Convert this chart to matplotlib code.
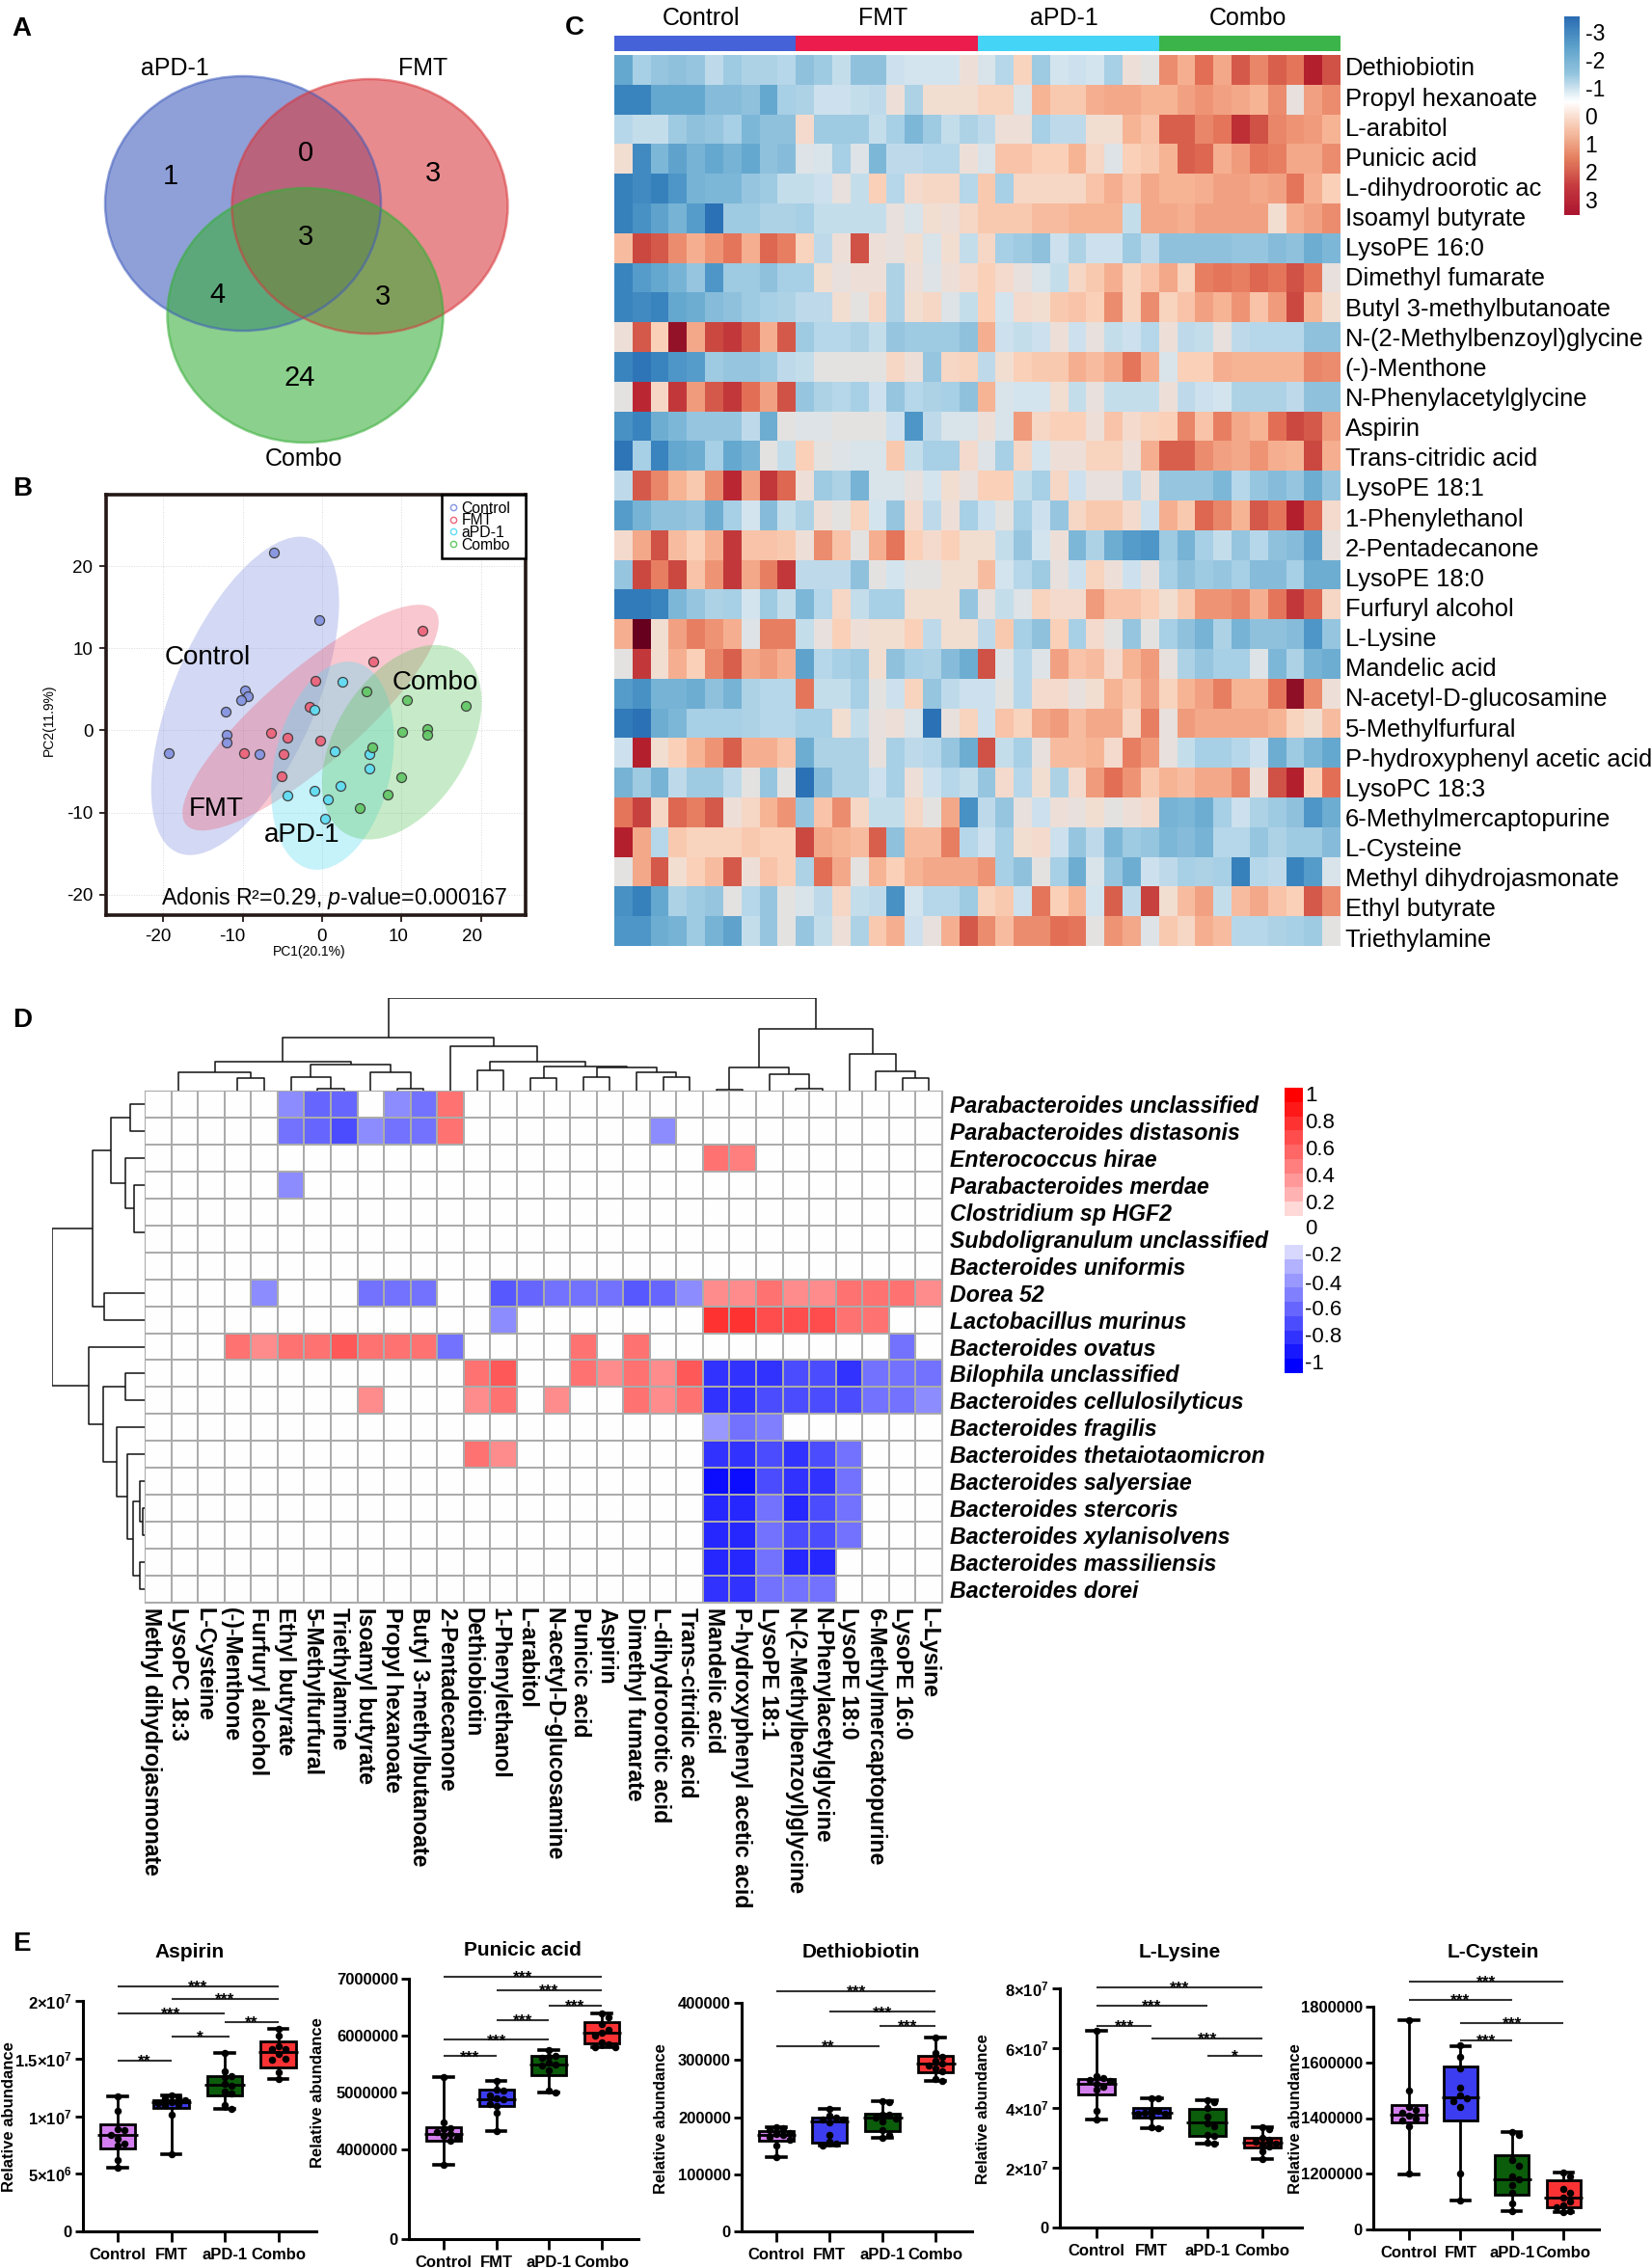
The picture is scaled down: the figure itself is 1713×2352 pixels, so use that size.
import numpy as np
import matplotlib
matplotlib.use("Agg")
import matplotlib.pyplot as plt
from matplotlib.colors import LinearSegmentedColormap, ListedColormap, Normalize
from matplotlib.lines import Line2D
from matplotlib.patches import Ellipse
from matplotlib.transforms import ScaledTranslation

plt.rcParams['font.family'] = ['Liberation Sans', 'DejaVu Sans']
plt.rcParams['mathtext.fontset'] = 'custom'
plt.rcParams['mathtext.rm'] = 'Liberation Sans'
plt.rcParams['mathtext.it'] = 'Liberation Sans:italic'
plt.rcParams['mathtext.bf'] = 'Liberation Sans:bold'

W, H = 1713, 2352
fig = plt.figure(figsize=(W / 100, H / 100), dpi=100, facecolor='white')


def add_px(l, t, r, b, **kw):
    return fig.add_axes([l / W, 1 - b / H, (r - l) / W, (b - t) / H], **kw)


def ftext(x, y, s, **kw):
    kw.setdefault('ha', 'center')
    kw.setdefault('va', 'center')
    return fig.text(x / W, 1 - y / H, s, **kw)


# ---------------------------------------------------------------- data
groups = ['Control', 'FMT', 'aPD-1', 'Combo']

venn_labels = ['aPD-1', 'FMT', 'Combo']
venn_counts = [1, 0, 3, 3, 4, 3, 24]

pca_control_x = [-6.1, -0.4, -9.7, -9.4, -10.2, -12.2, -12.0, -12.0, -19.3, -7.9]
pca_control_y = [21.6, 13.4, 4.9, 4.1, 3.7, 2.3, -0.5, -1.5, -2.8, -2.9]
pca_fmt_x = [12.7, 6.5, -0.9, -1.6, -6.4, -4.4, -0.2, -9.9, -4.9, -5.1]
pca_fmt_y = [12.1, 8.4, 6.0, 2.9, -0.35, -0.9, -1.3, -2.8, -2.9, -5.6]
pca_apd_x = [2.6, -1.0, 1.6, 6.0, 6.0, 2.3, -1.0, -4.4, 0.7, 0.4]
pca_apd_y = [5.9, 2.5, -2.5, -2.9, -4.6, -6.8, -7.3, -7.9, -8.4, -10.7]
pca_combo_x = [5.6, 10.7, 18.1, 10.1, 13.2, 13.3, 6.3, 10.0, 8.3, 4.8]
pca_combo_y = [4.7, 3.7, 3.0, -0.2, 0.2, -0.55, -2.1, -5.7, -7.8, -9.5]

metabolites = ['Dethiobiotin', 'Propyl hexanoate', 'L-arabitol', 'Punicic acid', 'L-dihydroorotic ac',
               'Isoamyl butyrate', 'LysoPE 16:0', 'Dimethyl fumarate', 'Butyl 3-methylbutanoate',
               'N-(2-Methylbenzoyl)glycine', '(-)-Menthone', 'N-Phenylacetylglycine', 'Aspirin',
               'Trans-citridic acid', 'LysoPE 18:1', '1-Phenylethanol', '2-Pentadecanone', 'LysoPE 18:0',
               'Furfuryl alcohol', 'L-Lysine', 'Mandelic acid', 'N-acetyl-D-glucosamine', '5-Methylfurfural',
               'P-hydroxyphenyl acetic acid', 'LysoPC 18:3', '6-Methylmercaptopurine', 'L-Cysteine',
               'Methyl dihydrojasmonate', 'Ethyl butyrate', 'Triethylamine']

heat_values = [
    [-1.8,-1.0,-1.2,-1.3,-1.2,-0.7,-1.1,-0.9,-0.9,-0.8, -1.3,-1.1,-0.6,-1.3,-1.3,-0.5,-0.4,-0.4,-0.4,0.1, -0.3,-0.8,0.5,-1.1,-0.4,-0.5,-0.4,-1.0,0.1,-0.1, 1.6,1.1,2.0,1.2,2.3,1.7,2.2,1.9,3.0,2.4],
    [-2.4,-2.4,-1.8,-1.8,-1.8,-1.4,-1.4,-1.3,-1.8,-1.0, -0.9,-0.5,-0.5,-0.6,-0.7,0.1,-0.9,0.2,0.2,0.2, 0.5,0.5,-0.3,1.0,0.7,0.7,1.1,1.2,1.2,1.0, 1.0,1.3,1.5,1.3,1.2,1.0,1.6,0.0,1.3,1.6],
    [-0.8,-0.6,-0.6,-1.1,-1.3,-1.2,-1.0,-1.5,-1.3,-1.3, 0.3,-1.1,-1.1,-1.1,-0.6,-1.0,-1.5,-1.1,-0.6,-0.9, -0.7,0.1,0.1,-1.0,-0.7,-0.7,0.2,0.2,1.0,0.8, 2.2,2.2,1.7,1.9,2.8,2.4,1.7,1.5,1.4,1.0],
    [0.2,-2.3,-1.5,-1.9,-1.6,-1.8,-1.6,-1.8,-1.3,-1.4, -0.2,-0.3,-1.0,-0.2,-1.5,-0.7,-0.7,-0.8,-0.8,0.1, -0.3,0.8,0.8,0.6,0.6,1.0,0.4,-0.2,0.6,0.7, 1.0,2.2,2.1,1.1,1.4,1.9,1.8,1.2,1.2,1.6],
    [-2.5,-2.3,-2.5,-2.1,-1.6,-1.5,-1.5,-1.2,-1.1,-0.6, -0.6,-0.5,0.0,-0.6,0.6,-0.8,0.3,0.4,0.4,-0.8, 0.7,-1.0,0.4,0.4,0.4,0.4,0.8,1.1,0.8,1.2, 1.0,1.0,1.1,1.3,1.3,1.2,1.3,1.9,1.1,0.6],
    [-2.5,-2.2,-1.9,-1.6,-2.0,-2.8,-1.1,-1.1,-0.9,-0.9, -1.0,-0.6,-0.6,-0.6,-0.6,0.0,-0.3,0.2,0.1,0.4, 0.7,0.7,0.7,0.9,0.9,1.0,1.0,1.0,-0.6,1.2, 1.2,1.1,1.3,1.3,1.3,1.3,0.2,1.1,1.3,1.6],
    [0.9,2.5,2.3,1.6,1.1,1.5,1.9,1.1,2.1,1.8, 0.5,-0.7,0.1,2.4,0.1,0.0,0.2,-0.3,0.2,-0.6, 0.4,-1.0,-1.1,-1.3,-0.5,-0.9,-0.5,-0.5,-1.1,-0.7, -1.3,-1.3,-1.3,-1.3,-1.2,-1.2,-1.4,-1.3,-1.7,-1.5],
    [-2.4,-2.0,-1.8,-1.6,-1.2,-2.1,-1.1,-1.1,-1.3,-1.0, -1.0,0.2,0.0,0.1,0.1,-0.9,0.1,-0.2,0.1,0.3, 0.6,0.3,0.0,-0.3,-0.6,0.4,0.7,1.1,0.5,0.8, 1.2,0.5,1.8,1.9,1.8,2.1,1.9,2.4,1.9,0.0],
    [-2.4,-2.3,-2.4,-1.8,-1.7,-1.4,-1.3,-1.1,-1.0,-0.9, -0.7,-0.7,0.2,-0.1,0.4,-0.9,0.2,0.4,-0.2,-0.6, 0.6,-0.4,0.3,0.2,0.7,0.8,0.6,1.6,0.5,1.6, 0.5,0.8,1.3,1.0,1.5,0.8,1.4,2.5,1.0,0.2],
    [0.1,2.3,0.6,3.4,1.2,2.5,2.7,2.2,1.1,2.3, -1.1,-0.8,-0.8,-0.9,-0.6,-1.2,-1.1,-1.1,-1.1,-1.3, 1.1,-0.5,-0.6,-0.5,0.1,-0.5,0.0,-0.6,-0.5,-0.8, 0.1,-0.7,-0.6,0.0,-0.7,-0.8,-0.8,-0.8,-1.3,-1.3],
    [-2.4,-2.7,-2.4,-2.1,-2.0,-1.1,-1.2,-1.2,-1.1,-0.7, -0.6,-0.1,-0.1,-0.1,-0.1,0.4,0.1,-1.2,0.4,0.5, -0.7,0.2,0.6,0.7,0.7,1.1,0.9,1.2,1.9,1.1, -0.3,0.6,0.6,1.1,1.0,1.0,1.0,1.0,1.7,1.6],
    [-0.1,2.9,0.4,2.7,1.4,2.3,2.7,2.0,1.3,2.4, -1.2,-0.9,-0.8,-1.0,-0.5,-1.2,-0.8,-0.9,-1.0,-1.3, 1.0,-0.3,-0.4,-0.4,0.2,-0.6,0.0,-0.6,-0.6,-0.6, 0.1,-0.7,-0.5,-0.4,-0.9,-0.9,-0.9,-0.7,-1.3,-1.3],
    [-2.2,-2.4,-1.7,-1.5,-1.2,-1.2,-1.2,-0.7,-1.7,-0.1, -0.2,-0.2,-0.1,-0.1,-0.1,-0.5,-2.1,-0.7,-0.3,-0.3, 0.1,-0.3,1.4,0.4,0.6,0.6,0.1,0.8,0.3,0.5, 0.6,1.7,0.8,1.8,1.2,1.0,2.0,2.5,2.3,1.4],
    [-2.7,-1.0,-2.4,-1.8,-1.7,-1.0,-1.8,-1.6,-0.1,-0.6, 0.6,-0.1,-0.2,-0.3,-0.3,0.7,-0.6,-1.0,-1.0,0.3, -0.2,-1.0,0.4,-0.4,0.1,0.1,0.5,0.5,0.1,1.1, 2.2,2.2,1.6,1.3,1.2,1.5,1.1,1.0,2.5,1.1],
    [-0.7,2.3,1.7,1.0,0.7,1.6,2.9,1.3,2.7,2.1, 0.1,-1.1,-0.9,-1.6,-0.3,-0.3,0.0,-0.4,0.2,0.0, 0.6,0.6,-0.6,-1.0,0.4,-0.5,0.0,0.0,-0.7,0.1, -1.2,-1.2,-1.2,-1.5,-0.8,-1.2,-1.4,-1.2,-1.7,-1.2],
    [-2.0,-1.6,-1.3,-1.3,-1.2,-1.7,-1.0,-0.4,-1.4,-0.6, -0.9,0.1,-0.1,0.5,-0.4,-1.2,0.3,-0.7,0.1,-1.0, -0.5,-0.1,-1.0,-0.5,-1.2,0.4,0.7,0.7,0.3,-0.5, 1.1,0.7,2.1,1.7,1.0,2.3,1.9,3.0,2.1,0.3],
    [0.3,1.2,2.4,0.9,0.6,1.1,2.7,0.8,0.8,0.7, 0.1,1.6,0.8,-0.1,1.1,1.9,0.6,0.3,0.6,0.2, 0.2,-0.6,-1.2,-0.4,0.1,-1.5,-0.9,-1.7,-2.0,-2.1, -1.1,-1.6,-1.0,-0.6,-1.2,-0.8,-1.3,-1.4,-1.9,0.0],
    [-1.2,2.5,1.8,2.5,0.8,1.5,2.7,1.2,1.8,2.7, -0.7,-0.7,-0.7,-1.3,-0.1,-0.4,-0.1,-0.1,0.2,0.2, 0.9,-0.4,-0.8,-1.1,0.0,-0.5,0.5,0.1,-0.5,0.0, -1.0,-1.3,-1.1,-1.2,-1.0,-1.4,-1.4,-1.0,-1.7,-1.7],
    [-2.6,-2.6,-2.4,-1.5,-1.2,-0.9,-1.0,-0.4,-1.1,-0.6, -1.5,-0.8,0.4,-0.6,-1.0,-1.0,0.2,0.2,0.2,-1.2, 0.0,-0.6,-0.2,0.5,0.3,0.3,1.4,0.8,0.8,0.6, 0.2,0.7,1.5,1.5,1.7,1.1,1.9,2.7,2.1,0.4],
    [1.1,4.0,0.2,1.3,1.8,1.5,1.1,-0.2,1.8,1.8, -0.6,0.0,0.6,0.1,0.2,0.2,0.6,-0.7,0.2,0.2, -0.7,0.7,-1.0,-1.3,0.6,-1.0,0.3,-0.1,-1.2,-0.1, -1.0,-1.3,-1.6,-0.9,-1.6,-1.3,-1.3,-1.4,-2.1,-1.2],
    [-0.1,2.7,0.2,1.1,0.6,1.7,2.2,1.2,1.4,1.1, -1.9,-0.8,-1.0,-1.1,0.2,-1.3,-1.0,-0.9,-1.4,-1.7, 2.4,-0.2,-0.8,-0.2,1.3,0.8,0.9,0.3,1.0,1.4, 0.0,-0.9,-1.2,-1.0,-1.0,-0.2,-1.5,-0.9,-1.6,-1.7],
    [-2.0,-2.2,-1.6,-1.6,-1.7,-1.3,-1.6,-0.9,-0.8,-0.8, 1.9,-0.6,-0.6,-1.0,-0.1,-0.5,0.5,-1.2,-0.7,-0.5, -0.5,-0.1,-0.8,0.3,0.3,0.0,0.2,1.0,0.7,1.3, 0.5,1.0,1.3,1.8,1.0,1.0,1.9,3.5,1.6,0.1],
    [-2.6,-2.8,-1.7,-1.5,-1.0,-1.0,-1.0,-0.9,-0.8,-0.8, -1.0,-1.0,0.2,-0.6,0.0,0.1,-0.3,-2.8,0.0,0.5, -0.5,0.8,0.5,1.2,1.4,0.9,1.2,1.2,0.4,1.8, 0.0,1.4,1.2,1.2,1.2,1.2,1.0,0.5,0.2,0.9],
    [-0.5,3.0,0.2,0.6,1.0,1.5,2.2,1.1,1.1,0.8, -1.7,-0.9,-0.9,-0.9,0.0,-1.0,-0.7,-0.8,-1.2,-1.7, 2.4,-0.6,-1.0,0.0,0.9,0.9,1.0,0.3,1.8,1.4, 0.0,-0.6,-1.0,-1.0,-0.8,-0.5,-1.7,-1.1,-1.5,-1.8],
    [-1.6,-1.1,-1.6,-0.7,-1.1,-1.1,-0.7,-0.1,-1.2,-0.1, -2.8,-1.4,-0.9,-0.9,-0.5,-1.0,0.1,-0.5,-0.8,-0.6, -1.2,0.3,-0.8,0.2,-0.9,0.3,1.4,2.0,1.5,0.7, 1.0,0.9,1.2,1.2,1.7,0.1,2.4,3.0,0.6,2.0],
    [1.9,2.6,0.4,2.1,1.8,2.3,0.1,0.4,1.0,1.5, -1.2,0.8,1.6,0.4,-0.6,-0.6,0.4,-0.1,1.2,-2.2, -0.7,-1.2,0.0,-0.5,0.1,0.0,0.2,-0.1,0.1,0.3, -1.6,-1.5,-1.7,-1.0,-0.5,-0.9,-1.1,-1.3,-2.1,-1.7],
    [3.0,1.2,-0.8,0.7,0.5,0.5,0.5,0.7,0.6,0.6, 2.5,1.2,1.0,0.9,2.2,-1.3,0.9,0.9,1.8,-0.8, -0.5,-1.0,0.2,0.3,-0.5,-1.2,-0.7,-1.5,-1.1,-1.2, -1.5,-1.4,-1.6,-0.8,-0.8,-1.2,-0.9,-1.1,-1.1,-1.4],
    [-0.1,1.2,2.3,0.2,0.6,0.9,2.3,0.1,0.8,0.6, -0.9,2.0,1.2,-0.1,1.0,0.6,1.0,1.2,1.2,1.2, 1.5,-1.0,-1.3,-0.1,-1.0,-1.7,-0.3,-1.2,-1.7,-0.5, -0.7,-1.0,-0.9,-1.0,-2.5,-0.8,-0.7,-2.4,-2.0,-0.3],
    [-2.2,-2.5,-1.8,-0.9,-1.1,-1.2,-0.1,-0.8,-1.2,-0.1, -0.3,-0.7,0.4,-0.6,-0.7,-2.2,-0.4,-0.8,-0.8,-1.1, 0.5,0.7,-0.5,1.9,0.6,1.0,-0.4,2.2,-0.7,2.6, 0.2,0.9,1.3,-0.6,0.9,1.2,0.8,0.6,2.3,1.6],
    [-2.1,-2.1,-1.7,-1.6,-1.1,-1.6,-1.9,-0.6,-1.2,-0.1, -1.2,-0.6,0.1,-0.9,0.7,1.1,-0.5,0.0,1.1,2.3, 1.6,0.9,1.6,1.6,2.0,1.9,-0.1,1.5,1.2,-0.2, 0.7,0.4,1.1,0.9,-0.8,-0.8,-0.9,-1.0,-1.1,-0.1],
]
heat_group_sizes = [10, 10, 10, 10]
heat_ticks = [-3, -2, -1, 0, 1, 2, 3]

taxa = ['Parabacteroides unclassified', 'Parabacteroides distasonis', 'Enterococcus hirae',
        'Parabacteroides merdae', 'Clostridium sp HGF2', 'Subdoligranulum unclassified',
        'Bacteroides uniformis', 'Dorea 52', 'Lactobacillus murinus', 'Bacteroides ovatus',
        'Bilophila unclassified', 'Bacteroides cellulosilyticus', 'Bacteroides fragilis',
        'Bacteroides thetaiotaomicron', 'Bacteroides salyersiae', 'Bacteroides stercoris',
        'Bacteroides xylanisolvens', 'Bacteroides massiliensis', 'Bacteroides dorei']
corr_columns = ['Methyl dihydrojasmonate', 'LysoPC 18:3', 'L-Cysteine', '(-)-Menthone', 'Furfuryl alcohol',
                'Ethyl butyrate', '5-Methylfurfural', 'Triethylamine', 'Isoamyl butyrate', 'Propyl hexanoate',
                'Butyl 3-methylbutanoate', '2-Pentadecanone', 'Dethiobiotin', '1-Phenylethanol', 'L-arabitol',
                'N-acetyl-D-glucosamine', 'Punicic acid', 'Aspirin', 'Dimethyl fumarate', 'L-dihydroorotic acid',
                'Trans-citridic acid', 'Mandelic acid', 'P-hydroxyphenyl acetic acid', 'LysoPE 18:1',
                'N-(2-Methylbenzoyl)glycine', 'N-Phenylacetylglycine', 'LysoPE 18:0', '6-Methylmercaptopurine',
                'LysoPE 16:0', 'L-Lysine']
# non-zero correlations of each taxon: {column index: r}
corr_cells = [
    {5: -.45, 6: -.6, 7: -.6, 9: -.45, 10: -.55, 11: .55},
    {5: -.55, 6: -.6, 7: -.7, 8: -.45, 9: -.55, 10: -.55, 11: .55, 19: -.45},
    {21: .55, 22: .5},
    {5: -.45},
    {},
    {},
    {},
    {4: -.45, 8: -.55, 9: -.55, 10: -.55, 13: -.65, 14: -.6, 15: -.55, 16: -.55, 17: -.55, 18: -.65, 19: -.6, 20: -.45,
     21: .45, 22: .45, 23: .55, 24: .45, 25: .45, 26: .55, 27: .55, 28: .55, 29: .45},
    {13: -.45, 21: .8, 22: .8, 23: .7, 24: .7, 25: .7, 26: .55, 27: .55},
    {3: .55, 4: .45, 5: .55, 6: .55, 7: .65, 8: .55, 9: .55, 10: .55, 11: -.55, 16: .55, 18: .55, 28: -.55},
    {12: .55, 13: .65, 16: .55, 17: .45, 18: .55, 19: .45, 20: .65, 21: -.8, 22: -.8, 23: -.8, 24: -.7, 25: -.7, 26: -.8,
     27: -.55, 28: -.55, 29: -.55},
    {8: .45, 12: .45, 13: .55, 15: .45, 18: .55, 19: .45, 20: .55, 21: -.8, 22: -.8, 23: -.7, 24: -.7, 25: -.7, 26: -.7,
     27: -.55, 28: -.55, 29: -.45},
    {21: -.4, 22: -.55, 23: -.5},
    {12: .55, 13: .45, 21: -.8, 22: -.8, 23: -.7, 24: -.8, 25: -.7, 26: -.55},
    {21: -.95, 22: -.95, 23: -.7, 24: -.8, 25: -.8, 26: -.55},
    {21: -.85, 22: -.85, 23: -.55, 24: -.85, 25: -.7, 26: -.55},
    {21: -.85, 22: -.85, 23: -.55, 24: -.7, 25: -.7, 26: -.55},
    {21: -.85, 22: -.85, 23: -.55, 24: -.85, 25: -.85},
    {21: -.8, 22: -.8, 23: -.55, 24: -.55, 25: -.55},
]
corr_ticks = [1, .8, .6, .4, .2, 0, -.2, -.4, -.6, -.8, -1]
corr_red_steps = [1.0, .9, .8, .7, .6, .5, .4, .3, .15]
corr_blue_steps = [-.15, -.3, -.4, -.5, -.6, -.7, -.8, -.9, -1.0]

# dendrograms: (merge height, child, child); a number is a leaf position
col_tree = (235,
            (135,
             (74, (47, 0.78, (32, 3, 4)),
              (67, (34, 5, (4, 6, 7)), (47, 8, (4, 9, 10)))),
             (112, 11,
              (74, (52, 12, 13),
               (60, (32, 14, 15),
                (59, (34, 16, 17), (47, 18, (34, 19, 20))))))),
            (156,
             (58, (2, 21, 22), (42, 23, (5, 24, 25))),
             (94, 26, (50, 27, (32, 28, 29)))))
row_tree = (158,
            (88, (58, (25, 0, 1), (33, 2, (18, 3, 4.76))), (68, 7, 8)),
            (95, 9,
             (70, (33, 10, 11),
              (47, 12,
               (30, 13,
                (20, (8, 14, (3, 15, 16)), (8, 17, 18)))))))

# box panels: each group [low whisker, Q1, median, Q3, high whisker]
aspirin_box = [[5.49e6, 7.2e6, 8.33e6, 9.28e6, 1.17e7], [6.68e6, 1.067e7, 1.12e7, 1.14e7, 1.18e7],
               [1.06e7, 1.18e7, 1.276e7, 1.35e7, 1.55e7], [1.32e7, 1.42e7, 1.56e7, 1.65e7, 1.755e7]]
aspirin_pts = [[11.7, 10.5, 8.9, 8.8, 8.4, 8.0, 7.6, 7.45, 6.2, 5.49], [11.8, 11.65, 11.55, 11.35, 11.2, 11.15, 11.05, 11.0, 10.1, 6.68],
               [15.5, 13.9, 13.5, 13.35, 12.8, 12.6, 12.1, 11.95, 11.0, 10.6], [17.55, 17.0, 16.1, 15.8, 15.8, 15.4, 15.0, 14.9, 13.8, 13.2]]
aspirin_pts = [[v * 1e6 for v in g] for g in aspirin_pts]
aspirin_bars = [(0, 3, 2.125e7, '***'), (1, 3, 2.014e7, '***'), (0, 2, 1.889e7, '***'),
                (2, 3, 1.813e7, '**'), (1, 2.09, 1.688e7, '*'), (0, 1, 1.479e7, '**')]

punicic_box = [[3.73e6, 4.16e6, 4.28e6, 4.40e6, 5.27e6], [4.32e6, 4.76e6, 4.88e6, 5.05e6, 5.21e6],
               [5.0e6, 5.31e6, 5.5e6, 5.64e6, 5.75e6], [5.8e6, 5.86e6, 6.05e6, 6.23e6, 6.39e6]]
punicic_pts = [[5.27, 4.47, 4.38, 4.36, 4.30, 4.27, 4.24, 4.21, 4.16, 3.73], [5.21, 5.05, 5.04, 4.95, 4.9, 4.88, 4.8, 4.76, 4.65, 4.32],
               [5.75, 5.65, 5.63, 5.62, 5.52, 5.5, 5.48, 5.4, 5.03, 5.0], [6.39, 6.33, 6.2, 6.1, 6.05, 6.0, 5.88, 5.85, 5.8, 5.8]]
punicic_pts = [[v * 1e6 for v in g] for g in punicic_pts]
punicic_bars = [(0, 3, 7.03e6, '***'), (1, 3, 6.80e6, '***'), (2, 3, 6.525e6, '***'),
                (1, 2, 6.277e6, '***'), (0, 2, 5.927e6, '***'), (0, 1, 5.638e6, '***')]

dethio_box = [[130e3, 158e3, 168e3, 176e3, 182e3], [151e3, 155e3, 193e3, 200e3, 214e3],
              [163e3, 176e3, 199e3, 206e3, 228e3], [264e3, 279e3, 294e3, 307e3, 340e3]]
dethio_pts = [[182, 180, 178, 172, 170, 168, 165, 160, 150, 130], [214, 203, 200, 195, 195, 190, 168, 157, 153, 151],
              [228, 226, 205, 205, 200, 198, 192, 178, 168, 163], [340, 312, 305, 298, 294, 290, 285, 280, 267, 264]]
dethio_pts = [[v * 1e3 for v in g] for g in dethio_pts]
dethio_bars = [(0, 3, 4.2e5, '***'), (1, 3, 3.84e5, '***'), (1.94, 3, 3.595e5, '***'), (0, 1.94, 3.235e5, '**')]

lysine_box = [[3.6e7, 4.44e7, 4.81e7, 4.98e7, 6.58e7], [3.32e7, 3.69e7, 3.83e7, 4.0e7, 4.33e7],
              [2.82e7, 3.06e7, 3.53e7, 3.98e7, 4.27e7], [2.29e7, 2.68e7, 2.85e7, 3.01e7, 3.34e7]]
lysine_pts = [[6.58, 5.05, 5.0, 4.95, 4.9, 4.8, 4.7, 4.6, 3.9, 3.6], [4.33, 4.32, 3.95, 3.9, 3.85, 3.82, 3.8, 3.7, 3.35, 3.32],
              [4.27, 4.2, 4.0, 3.7, 3.5, 3.4, 3.1, 3.05, 2.85, 2.82], [3.34, 3.3, 3.0, 2.95, 2.88, 2.82, 2.75, 2.7, 2.55, 2.29]]
lysine_pts = [[v * 1e7 for v in g] for g in lysine_pts]
lysine_bars = [(0, 3, 8.04e7, '***'), (0, 2, 7.41e7, '***'), (0, 1, 6.74e7, '***'), (1, 3, 6.33e7, '***'), (2, 3, 5.75e7, '*')]

cystein_box = [[1.198e6, 1.384e6, 1.412e6, 1.447e6, 1.75e6], [1.103e6, 1.39e6, 1.474e6, 1.587e6, 1.658e6],
               [1.067e6, 1.123e6, 1.18e6, 1.267e6, 1.35e6], [1.063e6, 1.08e6, 1.115e6, 1.177e6, 1.205e6]]
cystein_pts = [[1.75, 1.5, 1.44, 1.43, 1.42, 1.41, 1.40, 1.39, 1.37, 1.2], [1.66, 1.62, 1.58, 1.51, 1.48, 1.47, 1.46, 1.44, 1.2, 1.103],
               [1.35, 1.34, 1.25, 1.23, 1.19, 1.18, 1.16, 1.13, 1.095, 1.067], [1.205, 1.19, 1.145, 1.13, 1.115, 1.1, 1.085, 1.08, 1.065, 1.063]]
cystein_pts = [[v * 1e6 for v in g] for g in cystein_pts]
cystein_bars = [(0, 3, 1.891e6, '***'), (0, 2, 1.823e6, '***'), (1, 3, 1.741e6, '***'), (1, 2, 1.679e6, '***')]

box_colors = ['#d47fef', '#3c3cf0', '#0b5c0b', '#fb3234']
INK = '#231815'

# ---------------------------------------------------------------- panel letters
for letter, x, y in [('A', 22, 30), ('B', 23, 507), ('C', 596, 29), ('D', 23, 1058), ('E', 22, 2016)]:
    ftext(x, y, letter, fontsize=20, fontweight='bold', color='black')

# ---------------------------------------------------------------- A: venn
ax = add_px(0, 0, 560, 500)
ax.set_xlim(0, 560)
ax.set_ylim(500, 0)
ax.axis('off')
venn_geom = [((252, 211), '#3f5cbc'), ((383.5, 214), '#d8383c'), ((316.5, 327), '#37ae39')]
for (c, col) in venn_geom:
    ax.add_patch(Ellipse(c, 286, 264, facecolor=col, alpha=0.58, edgecolor='none', zorder=2))
    ax.add_patch(Ellipse(c, 286, 264, facecolor='none', edgecolor=col, alpha=0.55, lw=1.8, zorder=3))
for name, (x, y) in zip(venn_labels, [(181, 71), (439, 71), (315, 476)]):
    ax.text(x, y, name, fontsize=18, ha='center', va='center')
for n, (x, y) in zip(venn_counts, [(177, 183), (317, 159), (449, 180), (317, 246), (225, 306), (397, 308), (311, 392)]):
    ax.text(x, y, str(n), fontsize=21, ha='center', va='center', zorder=5)

# ---------------------------------------------------------------- B: PCA
ax = add_px(110.2, 513, 544.6, 949)
ax.set_xlim(-27.2, 25.6)
ax.set_ylim(-22.5, 28.7)
pca_colors = ['#8695e2', '#ed647b', '#61dcf3', '#64c867']
ellipses = [(-9.7, 4.2, 41.8, 17.8, 65.6), (-1.45, 1.55, 40.8, 11.6, 39.6),
            (1.33, -4.3, 25.8, 14.7, 76.8), (10.05, -1.45, 26.4, 16.4, 55.7)]
for (cx, cy, w, h, ang), col in zip(ellipses, pca_colors):
    ax.add_patch(Ellipse((cx, cy), w, h, angle=ang, facecolor=col, alpha=0.36, edgecolor='none', zorder=2))
series = [(pca_control_x, pca_control_y), (pca_fmt_x, pca_fmt_y), (pca_apd_x, pca_apd_y), (pca_combo_x, pca_combo_y)]
for (xs, ys), col in zip(series, pca_colors):
    ax.plot(xs, ys, 'o', ms=7.2, mfc=col, mec='#3a3a3a', mew=0.9, alpha=0.95, zorder=4)
ax.set_xticks([-20, -10, 0, 10, 20])
ax.set_yticks([-20, -10, 0, 10, 20])
ax.grid(True, ls=':', lw=0.7, color='#d8d8d8', zorder=0)
ax.set_axisbelow(True)
for s in ax.spines.values():
    s.set_linewidth(2.6)
    s.set_color(INK)
ax.tick_params(length=5, width=1.3, labelsize=13.5, pad=5, color=INK)
ax.set_xticklabels(['-20', '-10', '0', '10', '20'])
ax.set_yticklabels(['-20', '-10', '0', '10', '20'])
for lab, off_px in zip(ax.get_xticklabels(), [-6, -11, 0, -3, -9]):
    lab.set_transform(lab.get_transform() + ScaledTranslation(off_px / 100, 0, fig.dpi_scale_trans))
ax.set_xlabel('PC1(20.1%)', fontsize=10)
ax.set_ylabel('PC2(11.9%)', fontsize=10)
ax.xaxis.set_label_coords(0.485, -0.072)
ax.yaxis.set_label_coords(-0.12, 0.463)
for s, x, y in [('Control', -14.4, 8.9), ('Combo', 14.2, 5.8), ('FMT', -13.3, -9.6), ('aPD-1', -2.55, -12.8)]:
    ax.text(x, y, s, fontsize=20, ha='center', va='center', zorder=6)
ax.text(1.6, -20.5, 'Adonis R²=0.29, $\\mathit{p}$-value=0.000167', fontsize=16.7, ha='center', va='center', zorder=6)
handles = [Line2D([], [], ls='', marker='o', ms=4.5, mfc='none', mec=c, mew=1.0, label=g)
           for g, c in zip(groups, pca_colors)]
leg = ax.legend(handles=handles, loc='upper left', bbox_to_anchor=(0.8006, 0.862, 0.1994, 0.138), mode='expand',
                fontsize=11.3, frameon=True, fancybox=False, borderaxespad=0,
                labelspacing=-0.15, borderpad=0.42, handlelength=0.7, handletextpad=0.2, framealpha=1, edgecolor='black')
leg.get_frame().set_linewidth(1.8)

# ---------------------------------------------------------------- C: heatmap
heat_cmap = LinearSegmentedColormap.from_list('heat', [
    (0.0, '#2468b0'), (0.6 / 7, '#3a85bf'), (1.2 / 7, '#66a9d0'), (1.8 / 7, '#97c6e0'), (2.2 / 7, '#b6d7e9'),
    (2.6 / 7, '#d3e4ee'), (2.9 / 7, '#e2e2e2'), (3.2 / 7, '#f2ddd2'), (3.6 / 7, '#fad0b8'), (4.0 / 7, '#f6b596'),
    (4.5 / 7, '#ee9475'), (5.0 / 7, '#e26f55'), (5.5 / 7, '#cc4a42'), (6.0 / 7, '#b51f2e'), (1.0, '#67001f')])
ax = add_px(637, 57, 1390, 981)
heat = np.array(heat_values)
ax.pcolormesh(heat, cmap=heat_cmap, norm=Normalize(-3, 4), edgecolors='none', rasterized=True)
ax.set_ylim(len(metabolites), 0)
ax.set_yticks((12 + np.arange(len(metabolites)) * 31.14) / 30.8)
ax.set_yticklabels(metabolites, fontsize=18.4)
ax.yaxis.tick_right()
ax.tick_params(axis='y', length=0, pad=3.5)
ax.set_xticks([])
for s in ax.spines.values():
    s.set_visible(False)

ax = add_px(637, 37, 1390, 53)
bar_ids = np.repeat(np.arange(4), heat_group_sizes)[None, :]
ax.pcolormesh(bar_ids, cmap=ListedColormap(['#4662d8', '#ec1c4c', '#44d4f5', '#3bb54a']), vmin=0, vmax=3)
ax.axis('off')
for g, x in zip(groups, [727, 916, 1103, 1294]):
    ftext(x, 19, g, fontsize=18)

ax = add_px(1622, 17, 1638, 223)
cb_cmap = LinearSegmentedColormap.from_list('cb', ['#2a6cb2', '#5a9fca', '#93c4de', '#ffffff', '#f6c2a8', '#e4805f', '#c53a3e', '#ab1530'])
ax.pcolormesh([0, 1], np.linspace(-3.55, 3.55, 201), np.linspace(-3.55, 3.55, 200)[:, None], cmap=cb_cmap, vmin=-3.55, vmax=3.55)
ax.set_ylim(3.55, -3.55)
ax.set_xticks([])
ax.yaxis.tick_right()
ax.set_yticks(heat_ticks)
ax.set_yticklabels([str(t) for t in heat_ticks])
ax.tick_params(axis='y', length=0, labelsize=16.5, pad=4)
for s in ax.spines.values():
    s.set_visible(False)

# ---------------------------------------------------------------- D: correlation map
corr = np.zeros((len(taxa), len(corr_columns)))
for i, row in enumerate(corr_cells):
    for j, v in row.items():
        corr[i, j] = v
bwr = LinearSegmentedColormap.from_list('bwr2', ['#0000ff', '#ffffff', '#ff0000'])
ax = add_px(150, 1131, 977, 1662)
ax.pcolormesh(corr, cmap=bwr, vmin=-1, vmax=1, edgecolors='#ababab', linewidth=1.1)
ax.set_ylim(len(taxa), 0)
n_cols = len(corr_columns)
ax.set_xticks(np.arange(n_cols) + 0.5 - 0.27 * (1 - np.arange(n_cols) / (n_cols - 1)))
ax.set_xticklabels(corr_columns, rotation=270, fontsize=16.7, fontweight='bold', ha='center', va='top')
ax.set_yticks(np.arange(len(taxa)) + 0.5)
ax.set_yticklabels(taxa, fontsize=16.7, fontweight='bold', fontstyle='italic')
ax.yaxis.tick_right()
ax.tick_params(axis='y', length=0, pad=6)
ax.tick_params(axis='x', length=0, pad=3.5)
for s in ax.spines.values():
    s.set_color('#ababab')


def draw_tree(node, horizontal, a):
    if not isinstance(node, tuple):
        return node + 0.5, 0
    h, left, right = node
    p0, h0 = draw_tree(left, horizontal, a)
    p1, h1 = draw_tree(right, horizontal, a)
    ps, hs = [p0, p0, p1, p1], [h0, h, h, h1]
    if horizontal:
        a.plot(hs, ps, color='#111111', lw=1.1, solid_capstyle='butt')
    else:
        a.plot(ps, hs, color='#111111', lw=1.1, solid_capstyle='butt')
    return (p0 + p1) / 2, h


ax = add_px(150, 1035, 977, 1131)
ax.set_xlim(0, 30)
ax.set_ylim(0, 235)
ax.axis('off')
draw_tree(col_tree, False, ax)
ax = add_px(53.5, 1131, 150, 1662)
ax.set_xlim(158, 0)
ax.set_ylim(19, 0)
ax.axis('off')
draw_tree(row_tree, True, ax)

ax = add_px(1332, 1128, 1351, 1261)
ax.pcolormesh([0, 1], np.arange(10), np.array(corr_red_steps)[:, None], cmap=bwr, vmin=-1, vmax=1)
ax.set_ylim(9, 0)
ax.axis('off')
ax = add_px(1332, 1291, 1351, 1424)
ax.pcolormesh([0, 1], np.arange(10), np.array(corr_blue_steps)[:, None], cmap=bwr, vmin=-1, vmax=1)
ax.set_ylim(9, 0)
ax.axis('off')
for v, y in zip(corr_ticks, [1137, 1165, 1192, 1221, 1248, 1275, 1303, 1332, 1359, 1387, 1415]):
    ftext(1353, y, f'{v:g}', fontsize=16, ha='left')


# ---------------------------------------------------------------- E: box panels
def box_panel(box_px, x_origin, x_step, title, title_xy, ylab_xy, boxes, pts, bars, ylim, ticks, ticklabels, scale=None):
    l, t, r, b = box_px
    ax = add_px(l, t, r, b)
    if scale is not None:
        ax.set_yscale('function', functions=scale)
    ax.set_xlim((l - x_origin) / x_step, (r - x_origin) / x_step)
    ax.set_ylim(*ylim)
    stats = [dict(whislo=g[0], q1=g[1], med=g[2], q3=g[3], whishi=g[4], fliers=[]) for g in boxes]
    bp = ax.bxp(stats, positions=range(4), widths=0.66, patch_artist=True, showfliers=False, manage_ticks=False,
                capwidths=0.36,
                boxprops=dict(linewidth=2, edgecolor='black'),
                whiskerprops=dict(linewidth=2, color='black'),
                capprops=dict(linewidth=2.6, color='black'),
                medianprops=dict(linewidth=0))
    for patch, col in zip(bp['boxes'], box_colors):
        patch.set_facecolor(col)
    for i, g in enumerate(boxes):
        ax.hlines(g[2], i - 0.37, i + 0.37, color='black', lw=2, zorder=4)
    fig.canvas.draw()
    for i, g in enumerate(pts):
        ypx = ax.transData.transform([(0, v) for v in g])[:, 1]
        placed = []
        offs = []
        for y in ypx:
            for o in [0, 1, -1, 2, -2, 3, -3]:
                if all((o - po) ** 2 * 49 + (y - py) ** 2 >= 36 for po, py in placed):
                    break
            placed.append((o, y))
            offs.append(o * 7 / x_step)
        ax.plot(np.array(offs) + i, g, 'o', ms=5.4, color='black', mew=0, zorder=5)
    for x0, x1, y, s in bars:
        ax.plot([x0, x1], [y, y], color='#333333', lw=1.5, clip_on=False, solid_capstyle='butt')
        ax.annotate(s, ((x0 + x1) / 2, y), xytext=(0, -1), textcoords='offset points', fontsize=12.5,
                    fontweight='bold', ha='center', va='center', annotation_clip=False)
    for side in ('top', 'right'):
        ax.spines[side].set_visible(False)
    for side in ('left', 'bottom'):
        ax.spines[side].set_linewidth(2.2)
    ax.set_xticks(range(4))
    ax.set_xticklabels(groups, fontsize=12, fontweight='bold')
    ax.set_yticks(ticks)
    ax.set_yticklabels(ticklabels, fontsize=12, fontweight='bold')
    ax.tick_params(axis='x', length=8, width=2, pad=4)
    ax.tick_params(axis='y', length=6, width=2, pad=2)
    ftext(title_xy[0], title_xy[1] + 2, title, fontsize=15, fontweight='bold')
    ftext(*ylab_xy, 'Relative abundance', fontsize=12, fontweight='bold', rotation=90)
    return ax


def punicic_forward(v):
    v = np.asarray(v, dtype=float)
    return np.where(v < 3e6, v * 101 / 3e6, 101 + (v - 3e6) * 177e-6)


def punicic_inverse(u):
    u = np.asarray(u, dtype=float)
    return np.where(u < 101, u * 3e6 / 101, 3e6 + (u - 101) / 177e-6)


def sci(m, e):
    return f'{m}×10$^{{\\mathbf{{{e}}}}}$'


box_panel((86, 2075, 328, 2314), 122, 55.5, 'Aspirin', (197, 2023), (10, 2195), aspirin_box, aspirin_pts, aspirin_bars,
          (0, 2e7), [0, 5e6, 1e7, 1.5e7, 2e7], ['0', sci(5, 6), sci(1, 7), sci(1.5, 7), sci(2, 7)])
box_panel((424, 2052, 662, 2322), 460, 54.6, 'Punicic acid', (542, 2020), (330, 2170), punicic_box, punicic_pts, punicic_bars,
          (0, 7e6), [0, 4e6, 5e6, 6e6, 7e6], ['0', '4000000', '5000000', '6000000', '7000000'],
          scale=(punicic_forward, punicic_inverse))
box_panel((769, 2077, 1008, 2314), 805, 55.1, 'Dethiobiotin', (893, 2023), (685, 2197), dethio_box, dethio_pts, dethio_bars,
          (0, 4e5), [0, 1e5, 2e5, 3e5, 4e5], ['0', '100000', '200000', '300000', '400000'])
box_panel((1099, 2062, 1350, 2310), 1137, 57.3, 'L-Lysine', (1223, 2023), (1020, 2187), lysine_box, lysine_pts, lysine_bars,
          (0, 8e7), [0, 2e7, 4e7, 6e7, 8e7], ['0', sci(2, 7), sci(4, 7), sci(6, 7), sci(8, 7)])
box_panel((1424, 2081, 1658, 2312), 1461, 53.4, 'L-Cystein', (1548, 2023), (1343, 2197), cystein_box, cystein_pts, cystein_bars,
          (1e6, 1.8e6), [1e6, 1.2e6, 1.4e6, 1.6e6, 1.8e6], ['0', '1200000', '1400000', '1600000', '1800000'])

fig.savefig('out.png', dpi=100, facecolor='white')
